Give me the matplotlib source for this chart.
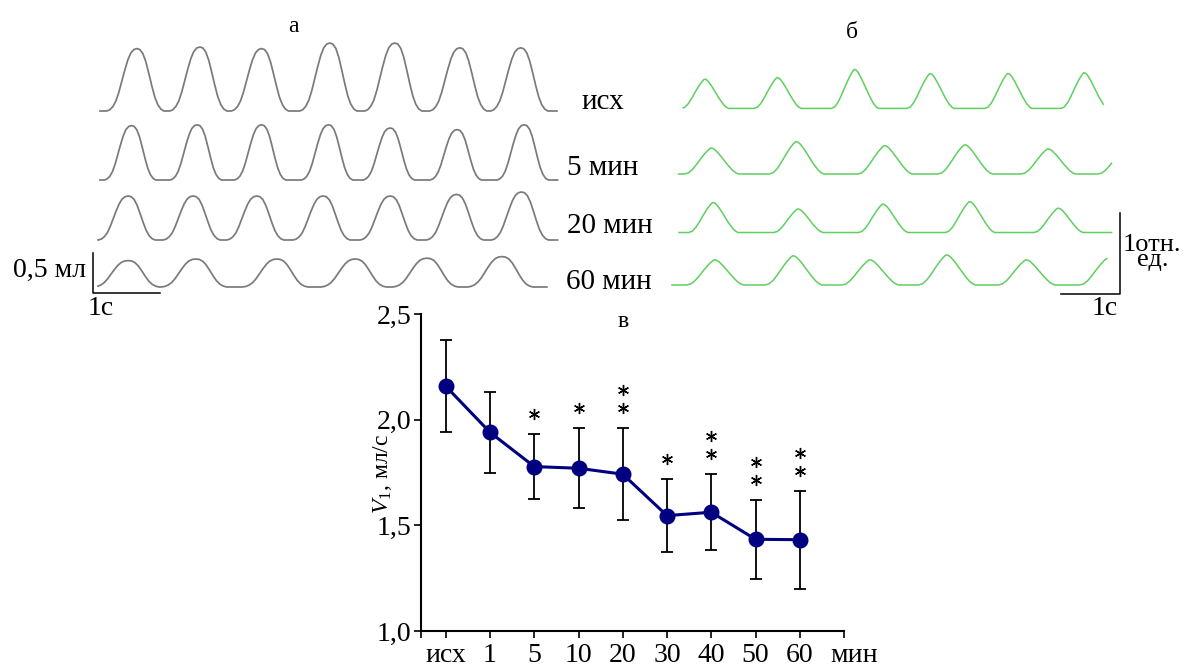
import numpy as np
import matplotlib
matplotlib.use("Agg")
import matplotlib.pyplot as plt
from matplotlib import transforms

plt.rcParams['font.family'] = ['Liberation Serif', 'DejaVu Serif']
plt.rcParams['mathtext.fontset'] = 'custom'
plt.rcParams['mathtext.rm'] = 'Liberation Serif'
plt.rcParams['mathtext.it'] = 'Liberation Serif:italic'

# ---- панель в: V1, мл/с ----
categories = ['исх', '1', '5', '10', '20', '30', '40', '50', '60']
v1_mean = [2.158, 1.94, 1.778, 1.77, 1.742, 1.546, 1.562, 1.434, 1.432]
v1_err = [0.218, 0.19, 0.153, 0.19, 0.218, 0.174, 0.18, 0.186, 0.232]
stars = [0, 0, 1, 1, 2, 1, 2, 2, 2]
yticks = [1.0, 1.5, 2.0, 2.5]

# ---- панель а: объём, мл (пики: время от начала, с; амплитуда, мл) ----
trace_labels = ['исх', '5 мин', '20 мин', '60 мин']
a_peak_t = [
    [0.55, 1.49, 2.41, 3.43, 4.40, 5.37, 6.28],
    [0.47, 1.45, 2.41, 3.41, 4.33, 5.33, 6.33],
    [0.42, 1.39, 2.34, 3.33, 4.33, 5.32, 6.29],
    [0.42, 1.43, 2.64, 3.81, 4.88, 6.00],
]
a_peak_amp = [
    [0.78, 0.80, 0.78, 0.85, 0.85, 0.79, 0.79],
    [0.68, 0.69, 0.69, 0.69, 0.65, 0.63, 0.69],
    [0.55, 0.55, 0.55, 0.55, 0.55, 0.57, 0.60],
    [0.33, 0.35, 0.35, 0.35, 0.36, 0.38],
]
a_span = [(0.0, 6.82), (0.0, 6.83), (-0.03, 6.83), (-0.03, 6.67)]
a_width = [1.0, 0.9, 1.0, 1.15]
# форма одного цикла (с от пика, доля амплитуды)
a_shape_t = [-0.448, -0.403, -0.358, -0.313, -0.269, -0.224, -0.179, -0.134, -0.090, -0.045,
             0, 0.045, 0.090, 0.134, 0.179, 0.224, 0.269, 0.313, 0.358, 0.403]
a_shape_v = [0, 0.02, 0.07, 0.16, 0.30, 0.48, 0.66, 0.82, 0.93, 0.985,
             1, 0.985, 0.92, 0.79, 0.60, 0.40, 0.22, 0.10, 0.03, 0]

# ---- панель б: отн. ед. ----
b_peak_t = [
    [0.56, 1.79, 3.10, 4.38, 5.70, 6.99],
    [0.67, 2.11, 3.61, 4.97, 6.38, 7.68],
    [0.70, 2.14, 3.58, 5.05, 6.55],
    [0.73, 2.06, 3.36, 4.66, 6.01, 7.39],
]
b_peak_amp = [
    [0.36, 0.38, 0.48, 0.43, 0.43, 0.44],
    [0.32, 0.40, 0.35, 0.36, 0.31, 0.30],
    [0.37, 0.29, 0.35, 0.38, 0.30],
    [0.31, 0.36, 0.31, 0.37, 0.31, 0.33],
]
b_span = [(0.19, 7.31), (0.11, 7.45), (0.12, 7.45), (0.0, 7.37)]
b_width = [0.95, 1.1, 1.0, 1.15]
b_shape_t = [-0.42, -0.36, -0.30, -0.24, -0.17, -0.10, -0.05, -0.015, 0.02,
             0.06, 0.12, 0.19, 0.26, 0.33, 0.38, 0.42]
b_shape_v = [0, 0.04, 0.16, 0.34, 0.58, 0.80, 0.93, 1.0, 0.99,
             0.92, 0.76, 0.54, 0.32, 0.13, 0.04, 0]

W, H = 1190, 668
fig = plt.figure(figsize=(W / 100, H / 100), dpi=100)


def px_axes(x0, x1, y0, y1, ox, oy, sx, sy):
    # оси по пиксельной рамке; (ox, oy) - пиксель нуля, sx/sy - пикселей на единицу
    ax = fig.add_axes([x0 / W, 1 - y1 / H, (x1 - x0) / W, (y1 - y0) / H])
    ax.set_xlim((x0 - ox) / sx, (x1 - ox) / sx)
    ax.set_ylim((oy - y1) / sy, (oy - y0) / sy)
    ax.axis('off')
    return ax


def build_trace(peaks, amps, span, shape_t, shape_v, width):
    t = [span[0] - 1]
    v = [0.0]
    for p, a in zip(peaks, amps):
        t += [p + s * width for s in shape_t]
        v += [a * s for s in shape_v]
    t.append(span[1] + 1)
    v.append(0.0)
    t = np.array(t)
    v = np.array(v)
    inside = (t > span[0]) & (t < span[1])
    tt = np.concatenate([[span[0]], t[inside], [span[1]]])
    return tt, np.interp(tt, t, v)


def ftext(x, y, s, **kw):
    fig.text(x / W, 1 - y / H, s, **kw)


# панель а
ax_a = px_axes(40, 600, 10, 310, 100, 287, 67, 80)
a_base = [2.2, 1.3375, 0.5875, 0.0]
for i in range(4):
    t, v = build_trace(a_peak_t[i], a_peak_amp[i], a_span[i], a_shape_t, a_shape_v, a_width[i])
    ax_a.plot(t, v + a_base[i], color='#7a7a7a', lw=1.25, solid_joinstyle='round')
# масштаб: 1 с, 0,5 мл
sa_x, sa_y = -0.104, -0.075
ax_a.plot([sa_x, sa_x, sa_x + 1.0], [sa_y + 0.5, sa_y, sa_y], color='black', lw=1.1)

# панель б
ax_b = px_axes(640, 1190, 10, 320, 672, 285, 59, 81)
b_base = [2.18, 1.37, 0.648, 0.0]
for i in range(4):
    t, v = build_trace(b_peak_t[i], b_peak_amp[i], b_span[i], b_shape_t, b_shape_v, b_width[i])
    ax_b.plot(t, v + b_base[i], color='#5fcf5f', lw=1.1, solid_joinstyle='round')
sb_x, sb_y = 7.593, -0.111
ax_b.plot([sb_x - 1.0, sb_x, sb_x], [sb_y, sb_y, sb_y + 1.0], color='black', lw=1.1)

# подписи панелей а, б
ftext(293, 32, 'а', ha='center', va='baseline', fontsize=17)
ftext(852, 38, 'б', ha='center', va='baseline', fontsize=17)
label_pos = [(582, 109), (567, 175), (567, 233), (566, 289)]
for lab, (x, y) in zip(trace_labels, label_pos):
    ftext(x, y, lab, ha='left', va='baseline', fontsize=21)
ftext(86, 277, '0,5 мл', ha='right', va='baseline', fontsize=20)
ftext(88, 315, '1с', ha='left', va='baseline', fontsize=20)
ftext(1123, 266, '1отн.\nед.', ha='left', va='baseline', multialignment='center',
      linespacing=0.58, fontsize=19)
ftext(1092, 315, '1с', ha='left', va='baseline', fontsize=20)

# панель в
ax = fig.add_axes([421 / W, 1 - 631 / H, (844 - 421) / W, (631 - 314) / H])
x = np.arange(len(categories))
ax.errorbar(x, v1_mean, yerr=v1_err, fmt='none', ecolor='black',
            elinewidth=1.3, capsize=4, capthick=1.3, zorder=2)
ax.plot(x, v1_mean, '-o', color='#000080', lw=2.2, ms=10.5, zorder=3)

tops = np.array(v1_mean) + np.array(v1_err)
for k, dy in enumerate([20, 38]):
    idx = [i for i, n in enumerate(stars) if n > k]
    tr = transforms.offset_copy(ax.transData, fig=fig, x=0, y=dy, units='dots')
    ax.plot(x[idx], tops[idx], linestyle='none', marker=(6, 2, 0), ms=8,
            mew=1.0, color='black', transform=tr, clip_on=False)

ax.set_xlim(-0.56, 9.0)
ax.set_ylim(1.0, 2.5)
ax.set_yticks(yticks)
ax.set_yticklabels([f'{v:.1f}'.replace('.', ',') for v in yticks])
ax.set_xticks([-0.56] + list(range(10)))
ax.set_xticklabels([''] + categories + [''])
for side in ['top', 'right']:
    ax.spines[side].set_visible(False)
for side in ['left', 'bottom']:
    ax.spines[side].set_linewidth(1.5)
ax.tick_params(axis='both', direction='out', length=5, width=1.2, labelsize=20)
ax.tick_params(axis='x', pad=4)
ax.tick_params(axis='y', pad=2)
ax.annotate('мин', xy=(9, 0), xycoords=('data', 'axes fraction'), xytext=(7, -9),
            textcoords='offset points', ha='center', va='top', fontsize=20)
ax.text(0.4775, 0.975, 'в', transform=ax.transAxes, ha='center', va='center', fontsize=17)
ftext(383, 474, '$V_1$, мл/с', rotation=90, ha='center', va='center', fontsize=17)

fig.savefig('out.png', dpi=100, facecolor='white')
